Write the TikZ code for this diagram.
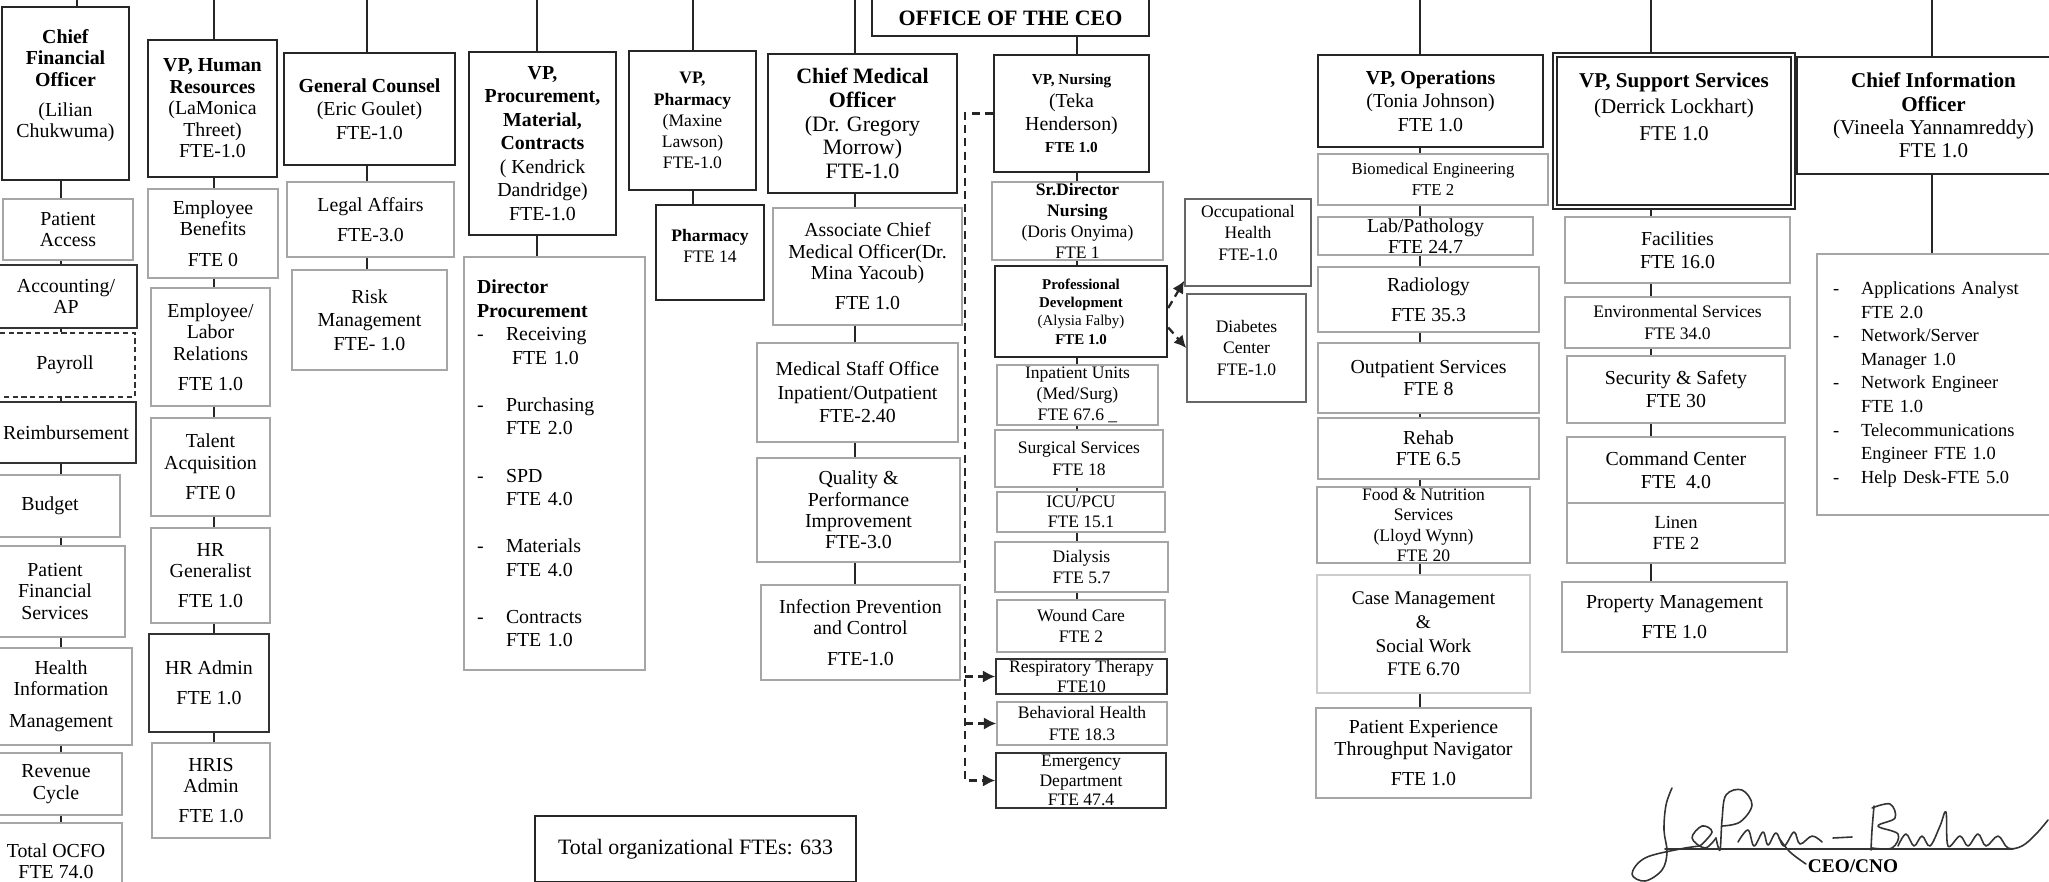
\documentclass[tikz,border=0pt]{standalone}
\usepackage{fontspec}
\setmainfont{Liberation Serif}
\usetikzlibrary{arrows.meta}
\tikzstyle{headNode} = [rectangle, draw=black!85, line width=1.4pt, fill=white, align=center, inner sep=0pt, font=\fontsize{11.3}{12.2}\selectfont]
\tikzstyle{subNode} = [rectangle, draw=black!35, line width=0.9pt, fill=white, align=center, inner sep=0pt, font=\fontsize{11.3}{12.2}\selectfont]
\tikzstyle{subNodeD} = [subNode, draw=black!80]
\tikzstyle{listNode} = [subNode, align=left, font=\fontsize{11.3}{13.4}\selectfont]
\tikzstyle{link} = [line width=1.1pt, draw=black!85]
\tikzstyle{dashArrow} = [line width=1.3pt, -{Latex[length=7pt,width=7pt]}, dash pattern=on 4.5pt off 3pt, draw=black!85]
\tikzstyle{sigLine} = [line width=0.9pt, draw=black!80, line join=round, line cap=round]

\begin{document}
\begin{tikzpicture}[x=0.02cm, y=-0.02cm]
        \useasboundingbox (0,0) rectangle (2049,882);
        \fill [white] (0,0) rectangle (2049,882);

        \node (ceo) [headNode, line width=1pt, anchor=south, minimum width=5.54cm, inner ysep=4pt, text depth=2pt, font=\fontsize{12.5}{13.5}\selectfont] at (1010.5,37) {\rule{0pt}{40pt}\textbf{OFFICE OF THE CEO}};

        % finance
        \node (cfo) [headNode, minimum width=2.54cm, minimum height=3.46cm] at (65.5,93.5) 
            {\textbf{Chief}\\\textbf{Financial}\\\textbf{Officer}\\[5pt](Lilian\\Chukwuma)\\[-1pt]\mbox{}};
        \node (pacc) [subNode, minimum width=2.60cm, minimum height=1.22cm] at (68,229.5) {Patient\\Access};
        \node (acct) [subNodeD, minimum width=2.84cm, minimum height=1.26cm] at (66,296.5) {Accounting/\\AP};
        \node (payr) [subNodeD, densely dashed, minimum width=2.80cm, minimum height=1.28cm] at (65,365) {Payroll};
        \node (reimb) [subNodeD, minimum width=2.80cm, minimum height=1.22cm] at (66,432.5) {Reimbursement};
        \node (budg) [subNode, minimum width=2.80cm, minimum height=1.24cm] at (50,506) {Budget};
        \node (pfs) [subNode, minimum width=2.80cm, minimum height=1.82cm] at (55,591.5) {Patient\\Financial\\Services};
        \node (him) [subNode, minimum width=2.84cm, minimum height=1.94cm] at (61,696.5) {Health\\Information\\[6pt]Management};
        \node (rev) [subNode, minimum width=2.64cm, minimum height=1.24cm] at (56,784) {Revenue\\Cycle};
        \node (tot) [subNode, minimum width=2.64cm, minimum height=1.54cm] at (56,861.5) {Total OCFO\\FTE 74.0};

        % human resources
        \node (hr) [headNode, minimum width=2.58cm, minimum height=2.74cm] at (212.5,108.5) 
            {\textbf{VP, Human}\\\textbf{Resources}\\(LaMonica\\Threet)\\FTE-1.0};
        \node (ben) [subNode, minimum width=2.60cm, minimum height=1.78cm] at (213,233.5) {Employee\\Benefits\\[5pt]FTE 0};
        \node (elr) [subNode, minimum width=2.38cm, minimum height=2.36cm] at (210.5,347) {Employee/\\Labor\\Relations\\[5pt]FTE 1.0};
        \node (tal) [subNode, minimum width=2.38cm, minimum height=1.96cm] at (210.5,467) {Talent\\Acquisition\\[5pt]FTE 0};
        \node (hrg) [subNode, minimum width=2.38cm, minimum height=1.90cm] at (210.5,575.5) {HR\\Generalist\\[5pt]FTE 1.0};
        \node (hra) [subNodeD, minimum width=2.40cm, minimum height=1.96cm] at (209,683) {HR Admin\\[5pt]FTE 1.0};
        \node (hris) [subNode, minimum width=2.36cm, minimum height=1.90cm] at (211,790.5) {HRIS\\Admin\\[5pt]FTE 1.0};

        % legal
        \node (gc) [headNode, font=\fontsize{11.3}{13.4}\selectfont, minimum width=3.42cm, minimum height=2.24cm] at (369.5,109) 
            {\textbf{General Counsel}\\(Eric Goulet)\\FTE-1.0};
        \node (leg) [subNode, minimum width=3.34cm, minimum height=1.50cm] at (370.5,219.5) {Legal Affairs\\[5pt]FTE-3.0};
        \node (risk) [subNode, font=\fontsize{11.3}{13.4}\selectfont, minimum width=3.10cm, minimum height=2.00cm] at (369.5,320) {Risk\\Management\\FTE- 1.0};

        % procurement
        \node (proc) [headNode, font=\fontsize{11.3}{13.4}\selectfont, minimum width=2.94cm, minimum height=3.66cm] at (542.5,143.5) 
            {\textbf{VP,}\\\textbf{Procurement,}\\\textbf{Material,}\\\textbf{Contracts}\\( Kendrick\\Dandridge)\\FTE-1.0};
        \node (dirp) [listNode, text width=3.10cm, inner xsep=0.26cm, minimum height=8.26cm] at (554.5,463.5) 
            {\textbf{Director}\\
             \textbf{Procurement}\\
             \makebox[0.58cm][l]{-}Receiving\\
             \hspace*{0.7cm}FTE 1.0\\[13.4pt]
             \makebox[0.58cm][l]{-}Purchasing\\
             \hspace*{0.58cm}FTE 2.0\\[13.4pt]
             \makebox[0.58cm][l]{-}SPD\\
             \hspace*{0.58cm}FTE 4.0\\[13.4pt]
             \makebox[0.58cm][l]{-}Materials\\
             \hspace*{0.58cm}FTE 4.0\\[13.4pt]
             \makebox[0.58cm][l]{-}Contracts\\
             \hspace*{0.58cm}FTE 1.0};

        % pharmacy
        \node (vpph) [headNode, font=\fontsize{10}{12}\selectfont, minimum width=2.54cm, minimum height=2.78cm] at (692.5,120.5) 
            {\textbf{VP,}\\\textbf{Pharmacy}\\(Maxine\\Lawson)\\FTE-1.0};
        \node (phar) [headNode, font=\fontsize{10}{12}\selectfont, minimum width=2.16cm, minimum height=1.90cm] at (710,252.5) {\textbf{Pharmacy}\\FTE 14\\[-5pt]\mbox{}};

        % medical
        \node (cmo) [headNode, font=\fontsize{12.5}{13.5}\selectfont, minimum width=3.78cm, minimum height=2.78cm] at (862.5,123.5) 
            {\textbf{Chief Medical}\\\textbf{Officer}\\(Dr. Gregory\\Morrow)\\FTE-1.0};
        \node (acmo) [subNode, minimum width=3.78cm, minimum height=2.34cm] at (867.5,266.5) {Associate Chief\\Medical Officer(Dr.\\Mina Yacoub)\\[5pt]FTE 1.0};
        \node (mso) [subNode, font=\fontsize{11.3}{13.4}\selectfont, minimum width=4.02cm, minimum height=1.98cm] at (857.5,392.5) {Medical Staff Office\\Inpatient/Outpatient\\FTE-2.40};
        \node (qpi) [subNode, minimum width=4.06cm, minimum height=2.08cm] at (858.5,510) {Quality \&\\Performance\\Improvement\\FTE-3.0};
        \node (ipc) [subNode, minimum width=3.98cm, minimum height=1.90cm] at (860.5,632.5) {Infection Prevention\\and Control\\[5pt]FTE-1.0};

        % nursing
        \node (vpn) [headNode, font=\fontsize{11.3}{13}\selectfont, minimum width=3.10cm, minimum height=2.34cm] at (1071.5,113.5) 
            {{\fontsize{8.7}{10}\selectfont\textbf{VP, Nursing}}\\(Teka\\Henderson)\\{\fontsize{8.7}{10}\selectfont\textbf{FTE 1.0}}};
        \node (srd) [subNode, font=\fontsize{10}{11.8}\selectfont, minimum width=3.42cm, minimum height=1.56cm] at (1077.5,221) 
            {\textbf{Sr.Director}\\\textbf{Nursing}\\(Doris Onyima)\\FTE 1};
        \node (pd) [headNode, font=\fontsize{8.5}{10.4}\selectfont, minimum width=3.44cm, minimum height=1.82cm] at (1081,311.5) 
            {\textbf{Professional}\\\textbf{Development}\\(Alysia Falby)\\\textbf{FTE 1.0}};
        \node (ipu) [subNode, font=\fontsize{10}{12}\selectfont, minimum width=3.22cm, minimum height=1.20cm] at (1077.5,395) {Inpatient Units\\(Med/Surg)\\FTE 67.6 \_};
        \node (surg) [subNode, font=\fontsize{10}{12}\selectfont, minimum width=3.36cm, minimum height=1.14cm] at (1079,458.5) {Surgical Services\\FTE 18};
        \node (icu) [subNode, font=\fontsize{10}{11.4}\selectfont, minimum width=3.36cm, minimum height=0.80cm] at (1081,512) {ICU/PCU\\FTE 15.1};
        \node (dial) [subNode, font=\fontsize{10}{12}\selectfont, minimum width=3.46cm, minimum height=1.00cm] at (1081.5,567) {Dialysis\\FTE 5.7};
        \node (wound) [subNode, font=\fontsize{10}{12}\selectfont, minimum width=3.36cm, minimum height=1.04cm] at (1081,626) {Wound Care\\FTE 2};
        \node (resp) [subNodeD, font=\fontsize{10}{11}\selectfont, minimum width=3.42cm, minimum height=0.70cm] at (1081.5,676.5) {Respiratory Therapy\\FTE10};
        \node (beh) [subNode, font=\fontsize{10}{12}\selectfont, minimum width=3.40cm, minimum height=0.86cm] at (1082,723.5) {Behavioral Health\\FTE 18.3};
        \node (ed) [subNodeD, font=\fontsize{10}{11}\selectfont, minimum width=3.40cm, minimum height=1.10cm] at (1081,780.5) {Emergency\\Department\\FTE 47.4};
        \node (occ) [subNode, draw=black!60, font=\fontsize{10}{12}\selectfont, minimum width=2.52cm, minimum height=1.74cm] at (1248,242.5) {Occupational\\Health\\FTE-1.0\\[-1pt]\mbox{}};
        \node (diab) [subNode, draw=black!60, font=\fontsize{10}{12}\selectfont, minimum width=2.38cm, minimum height=2.16cm] at (1246.5,348) {Diabetes\\Center\\FTE-1.0};

        % operations
        \node (ops) [headNode, font=\fontsize{11.3}{13.5}\selectfont, minimum width=4.50cm, minimum height=1.84cm] at (1430.5,101) 
            {\textbf{VP, Operations}\\(Tonia Johnson)\\FTE 1.0};
        \node (bio) [subNode, font=\fontsize{9.5}{12}\selectfont, minimum width=4.60cm, minimum height=1.02cm] at (1433,179.5) {Biomedical Engineering\\FTE 2};
        \node (lab) [subNode, minimum width=4.30cm, minimum height=0.76cm] at (1425.5,236) {Lab/Pathology\\FTE 24.7};
        \node (rad) [subNode, minimum width=4.42cm, minimum height=1.30cm] at (1428.5,299.5) {Radiology\\[5pt]FTE 35.3};
        \node (outp) [subNode, minimum width=4.42cm, minimum height=1.40cm] at (1428.5,378) {Outpatient Services\\FTE 8};
        \node (rehab) [subNode, minimum width=4.42cm, minimum height=1.22cm] at (1428.5,448.5) {Rehab\\FTE 6.5};
        \node (food) [subNode, font=\fontsize{10}{11.4}\selectfont, minimum width=4.26cm, minimum height=1.52cm] at (1423.5,525) {Food \& Nutrition\\Services\\(Lloyd Wynn)\\FTE 20};
        \node (case) [subNode, draw=black!20, font=\fontsize{11}{13.4}\selectfont, minimum width=4.26cm, minimum height=2.36cm] at (1423.5,634) {Case Management\\\&\\Social Work\\FTE 6.70};
        \node (pex) [subNode, minimum width=4.30cm, minimum height=1.80cm] at (1423.5,753) {Patient Experience\\Throughput Navigator\\[5pt]FTE 1.0};

        % support services
        \node (sup) [headNode, double, double distance=1.4pt, line width=1pt, font=\fontsize{12}{15}\selectfont, minimum width=4.76cm, minimum height=3.04cm] at (1674,131) 
            {\textbf{VP, Support Services}\\(Derrick Lockhart)\\FTE 1.0\\[13pt]\mbox{}};
        \node (fac) [subNode, font=\fontsize{11.3}{13}\selectfont, minimum width=4.50cm, minimum height=1.32cm] at (1677.5,250) {Facilities\\FTE 16.0};
        \node (env) [subNode, font=\fontsize{10}{12}\selectfont, minimum width=4.50cm, minimum height=1.02cm] at (1677.5,322.5) {Environmental Services\\FTE 34.0};
        \node (sec) [subNode, font=\fontsize{11.3}{13}\selectfont, minimum width=4.36cm, minimum height=1.34cm] at (1676,389.5) {Security \& Safety\\FTE 30};
        \node (cmd) [subNode, font=\fontsize{11.3}{13}\selectfont, minimum width=4.36cm, minimum height=1.32cm] at (1676,470) {Command Center\\FTE\ \ 4.0};
        \node (lin) [subNode, font=\fontsize{10.5}{12}\selectfont, minimum width=4.36cm, minimum height=1.20cm] at (1676,533) {Linen\\FTE 2};
        \node (prop) [subNode, minimum width=4.50cm, minimum height=1.40cm] at (1674.5,617) {Property Management\\[5pt]FTE 1.0};

        % information
        \node (cio) [headNode, line width=1.1pt, font=\fontsize{12}{13.3}\selectfont, minimum width=5.46cm, minimum height=2.34cm] at (1933.5,115.5) 
            {\textbf{Chief Information}\\\textbf{Officer}\\(Vineela Yannamreddy)\\FTE 1.0};
        \node (it) [listNode, font=\fontsize{10.5}{13.4}\selectfont, text width=4.42cm, inner xsep=0.32cm, minimum height=5.22cm] at (1943.5,384.5) 
            {\makebox[0.56cm][l]{-}Applications Analyst\\
             \hspace*{0.56cm}FTE 2.0\\
             \makebox[0.56cm][l]{-}Network/Server\\
             \hspace*{0.56cm}Manager 1.0\\
             \makebox[0.56cm][l]{-}Network Engineer\\
             \hspace*{0.56cm}FTE 1.0\\
             \makebox[0.56cm][l]{-}Telecommunications\\
             \hspace*{0.56cm}Engineer FTE 1.0\\
             \makebox[0.56cm][l]{-}Help Desk-FTE 5.0};

        \node (tfte) [headNode, line width=1pt, font=\fontsize{12.5}{13.5}\selectfont, minimum width=6.42cm, minimum height=1.32cm] at (695.5,849) {Total organizational FTEs: 633};
        \node (cno) [font=\fontsize{11}{12}\selectfont\bfseries, inner sep=0pt] at (1853,866) {CEO/CNO};

        % column lines
        \coordinate (tCfo) at (77,0);
        \coordinate (cCfo) at (61,0);
        \coordinate (cHr) at (214,0);
        \coordinate (cGc) at (367,0);
        \coordinate (cProc) at (537,0);
        \coordinate (cPharm) at (693,0);
        \coordinate (cCmo) at (855,0);
        \coordinate (cDash) at (965,0);
        \coordinate (cNur) at (1077,0);
        \coordinate (cOps) at (1420,0);
        \coordinate (cSup) at (1651,0);
        \coordinate (cCio) at (1932,0);

        \draw [link] (tCfo) -- (tCfo |- cfo.north);
        \draw [link] (cHr) -- (cHr |- hr.north);
        \draw [link] (cGc) -- (cGc |- gc.north);
        \draw [link] (cProc) -- (cProc |- proc.north);
        \draw [link] (cPharm) -- (cPharm |- vpph.north);
        \draw [link] (cCmo) -- (cCmo |- cmo.north);
        \draw [link] (cNur |- ceo.south) -- (cNur |- vpn.north);
        \draw [link] (cOps) -- (cOps |- ops.north);
        \draw [link] (cSup) -- (cSup |- sup.north);
        \draw [link] (cCio) -- (cCio |- cio.north);

        \draw [link] (cCfo |- cfo.south) -- (cCfo |- pacc.north);
        \draw [link] (cCfo |- pacc.south) -- (cCfo |- acct.north);
        \draw [link] (cCfo |- acct.south) -- (cCfo |- payr.north);
        \draw [link] (cCfo |- payr.south) -- (cCfo |- reimb.north);
        \draw [link] (cCfo |- reimb.south) -- (cCfo |- budg.north);
        \draw [link] (cCfo |- budg.south) -- (cCfo |- pfs.north);
        \draw [link] (cCfo |- pfs.south) -- (cCfo |- him.north);
        \draw [link] (cCfo |- him.south) -- (cCfo |- rev.north);
        \draw [link] (cCfo |- rev.south) -- (cCfo |- tot.north);

        \draw [link] (cHr |- hr.south) -- (cHr |- ben.north);
        \draw [link] (cHr |- ben.south) -- (cHr |- elr.north);
        \draw [link] (cHr |- elr.south) -- (cHr |- tal.north);
        \draw [link] (cHr |- tal.south) -- (cHr |- hrg.north);
        \draw [link] (cHr |- hrg.south) -- (cHr |- hra.north);
        \draw [link] (cHr |- hra.south) -- (cHr |- hris.north);

        \draw [link] (cGc |- gc.south) -- (cGc |- leg.north);
        \draw [link] (cGc |- leg.south) -- (cGc |- risk.north);
        \draw [link] (cProc |- proc.south) -- (cProc |- dirp.north);
        \draw [link] (cPharm |- vpph.south) -- (cPharm |- phar.north);

        \draw [link] (cCmo |- cmo.south) -- (cCmo |- acmo.north);
        \draw [link] (cCmo |- acmo.south) -- (cCmo |- mso.north);
        \draw [link] (cCmo |- mso.south) -- (cCmo |- qpi.north);
        \draw [link] (cCmo |- qpi.south) -- (cCmo |- ipc.north);

        \draw [link] (cNur |- vpn.south) -- (cNur |- srd.north);
        \draw [link] (cNur |- srd.south) -- (cNur |- pd.north);
        \draw [link] (cNur |- pd.south) -- (cNur |- ipu.north);
        \draw [link] (cNur |- ipu.south) -- (cNur |- surg.north);
        \draw [link] (cNur |- surg.south) -- (cNur |- icu.north);
        \draw [link] (cNur |- icu.south) -- (cNur |- dial.north);
        \draw [link] (cNur |- dial.south) -- (cNur |- wound.north);

        \draw [link] (cOps |- ops.south) -- (cOps |- bio.north);
        \draw [link] (cOps |- bio.south) -- (cOps |- lab.north);
        \draw [link] (cOps |- lab.south) -- (cOps |- rad.north);
        \draw [link] (cOps |- rad.south) -- (cOps |- outp.north);
        \draw [link] (cOps |- outp.south) -- (cOps |- rehab.north);
        \draw [link] (cOps |- rehab.south) -- (cOps |- food.north);
        \draw [link] (cOps |- food.south) -- (cOps |- case.north);
        \draw [link] (cOps |- case.south) -- (cOps |- pex.north);

        \draw [link] (cSup |- sup.south) -- (cSup |- fac.north);
        \draw [link] (cSup |- fac.south) -- (cSup |- env.north);
        \draw [link] (cSup |- env.south) -- (cSup |- sec.north);
        \draw [link] (cSup |- sec.south) -- (cSup |- cmd.north);
        \draw [link] (cSup |- lin.south) -- (cSup |- prop.north);
        \draw [link] (cCio |- cio.south) -- (cCio |- it.north);

        % dotted reporting lines
        \draw [dashArrow] (vpn.west) -| (cDash |- ed.west) -- (ed.west);
        \draw [dashArrow] (cDash |- resp.west) -- (resp.west);
        \draw [dashArrow] (cDash |- beh.west) -- (beh.west);
        \draw [dashArrow] ([yshift=0.07cm]pd.east) -- ([yshift=0.12cm]occ.south west);
        \draw [dashArrow] ([yshift=-0.32cm]pd.east) -- (diab.west);

        % signature
        \draw [sigLine] (1665,849) -- (2013,849);
        \draw [sigLine] plot[smooth, tension=0.6] coordinates {(1672,788) (1666,805) (1664,830) (1667,852) (1662,870) (1645,881) (1632,874) (1645,858) (1680,849) (1700,846)};
        \draw [sigLine] plot[smooth, tension=0.6] coordinates {(1700,846) (1712,832) (1702,826) (1692,838) (1705,848) (1716,838)};
        \draw [sigLine] plot[smooth, tension=0.6] coordinates {(1716,838) (1720,850) (1722,820) (1726,795) (1742,790) (1752,805) (1740,822) (1722,826)};
        \draw [sigLine] plot[smooth, tension=0.6] coordinates {(1738,842) (1748,830) (1754,846) (1763,832) (1768,845) (1776,833) (1784,846) (1794,832) (1800,844) (1812,836) (1822,842)};
        \draw [sigLine] plot[smooth, tension=0.6] coordinates {(1779,838) (1790,852) (1806,864)};
        \draw [sigLine] (1833,838) -- (1852,837);
        \draw [sigLine] plot[smooth, tension=0.6] coordinates {(1874,806) (1872,830) (1871,850)};
        \draw [sigLine] plot[smooth, tension=0.6] coordinates {(1872,808) (1890,804) (1895,818) (1878,826) (1898,834) (1892,848) (1872,848)};
        \draw [sigLine] plot[smooth, tension=0.6] coordinates {(1898,846) (1906,834) (1914,846) (1922,836) (1930,846) (1940,826) (1946,812) (1948,846) (1960,836) (1968,846) (1978,834) (1986,846) (1998,836) (2008,848) (2022,846) (2036,834) (2048,820)};
    \end{tikzpicture}
\end{document}
